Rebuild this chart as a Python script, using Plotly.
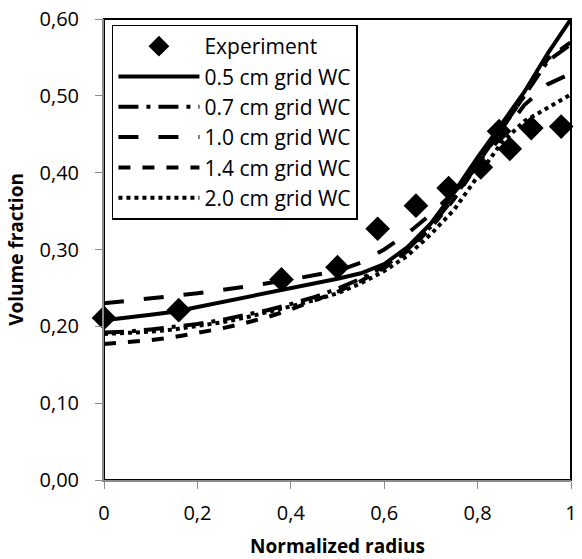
import plotly.graph_objects as go

# ---- data ----
exp_x = [0.0, 0.16, 0.38, 0.50, 0.586, 0.668, 0.738, 0.807, 0.846, 0.869, 0.915, 0.979]
exp_y = [0.211, 0.221, 0.261, 0.277, 0.327, 0.357, 0.380, 0.407, 0.454, 0.431, 0.458, 0.460]

r = [0, 0.05, 0.1, 0.15, 0.2, 0.25, 0.3, 0.35, 0.4, 0.45, 0.5, 0.55, 0.6, 0.65, 0.7, 0.75, 0.8, 0.85, 0.9, 0.95, 1.0]
wc05 = [0.208, 0.211, 0.215, 0.219, 0.225, 0.231, 0.237, 0.243, 0.250, 0.256, 0.262, 0.269, 0.281, 0.303, 0.334, 0.375, 0.420, 0.462, 0.505, 0.555, 0.600]
wc07 = [0.192, 0.193, 0.196, 0.199, 0.203, 0.208, 0.214, 0.221, 0.229, 0.238, 0.249, 0.262, 0.278, 0.300, 0.330, 0.368, 0.412, 0.455, 0.500, 0.545, 0.567]
wc10 = [0.230, 0.233, 0.236, 0.239, 0.243, 0.247, 0.251, 0.256, 0.261, 0.266, 0.272, 0.283, 0.300, 0.321, 0.346, 0.375, 0.408, 0.447, 0.488, 0.515, 0.529]
wc14 = [0.177, 0.179, 0.182, 0.186, 0.191, 0.197, 0.204, 0.212, 0.222, 0.233, 0.245, 0.259, 0.276, 0.298, 0.328, 0.366, 0.410, 0.455, 0.500, 0.548, 0.570]
wc20 = [0.190, 0.191, 0.193, 0.196, 0.200, 0.205, 0.211, 0.218, 0.226, 0.234, 0.243, 0.256, 0.272, 0.292, 0.320, 0.352, 0.395, 0.438, 0.467, 0.485, 0.502]

names = ["0.5 cm grid WC", "0.7 cm grid WC", "1.0 cm grid WC", "1.4 cm grid WC", "2.0 cm grid WC"]
dashes = ["solid", "longdashdot", "longdash", "dash", "dot"]

x_tickvals = [0, 0.2, 0.4, 0.6, 0.8, 1.0]
x_ticktext = ["0", "0,2", "0,4", "0,6", "0,8", "1"]
y_tickvals = [0, 0.1, 0.2, 0.3, 0.4, 0.5, 0.6]
y_ticktext = ["0,00", "0,10", "0,20", "0,30", "0,40", "0,50", "0,60"]

FONT = "Open Sans"

fig = go.Figure()
for i, (nm, ys, ds) in enumerate(zip(names, [wc05, wc07, wc10, wc14, wc20], dashes)):
    fig.add_trace(go.Scatter(x=r, y=ys, mode="lines", name=nm,
                             line=dict(color="black", width=4, dash=ds),
                             legendrank=i + 2))
fig.add_trace(go.Scatter(x=exp_x, y=exp_y, mode="markers", name="Experiment",
                         marker=dict(symbol="diamond", size=19, color="black"),
                         legendrank=1, cliponaxis=False))

fig.update_layout(
    width=582, height=559,
    margin=dict(l=104, r=5, t=17, b=78),
    paper_bgcolor="white", plot_bgcolor="white",
    font=dict(family=FONT, color="black"),
    showlegend=True,
    legend=dict(x=0.017, y=0.988, xanchor="left", yanchor="top",
                bordercolor="black", borderwidth=1.5, bgcolor="white",
                font=dict(size=21, family=FONT), itemwidth=81,
                tracegroupgap=0),
    shapes=[dict(type="rect", xref="paper", yref="paper", x0=0, y0=0, x1=1, y1=1,
                 line=dict(color="black", width=2), layer="below")],
)
fig.update_xaxes(range=[0, 1], tickvals=x_tickvals, ticktext=x_ticktext,
                 showgrid=False, zeroline=False, showline=True, linecolor="#8c8c8c",
                 linewidth=2, ticks="outside", ticklen=7, tickcolor="#8c8c8c",
                 ticklabelstandoff=7, ticklabeloverflow="allow",
                 tickfont=dict(size=20), title=dict(text="<b>Normalized radius</b>",
                 font=dict(size=19), standoff=15))
fig.update_yaxes(range=[0, 0.6], tickvals=y_tickvals, ticktext=y_ticktext,
                 showgrid=False, zeroline=False, showline=True, linecolor="#8c8c8c",
                 linewidth=2, ticks="outside", ticklen=7, tickcolor="#8c8c8c",
                 ticklabelstandoff=12, ticklabeloverflow="allow",
                 tickfont=dict(size=20), title=dict(text="<b>Volume fraction</b>",
                 font=dict(size=19), standoff=11))

fig.write_html("out.html")
